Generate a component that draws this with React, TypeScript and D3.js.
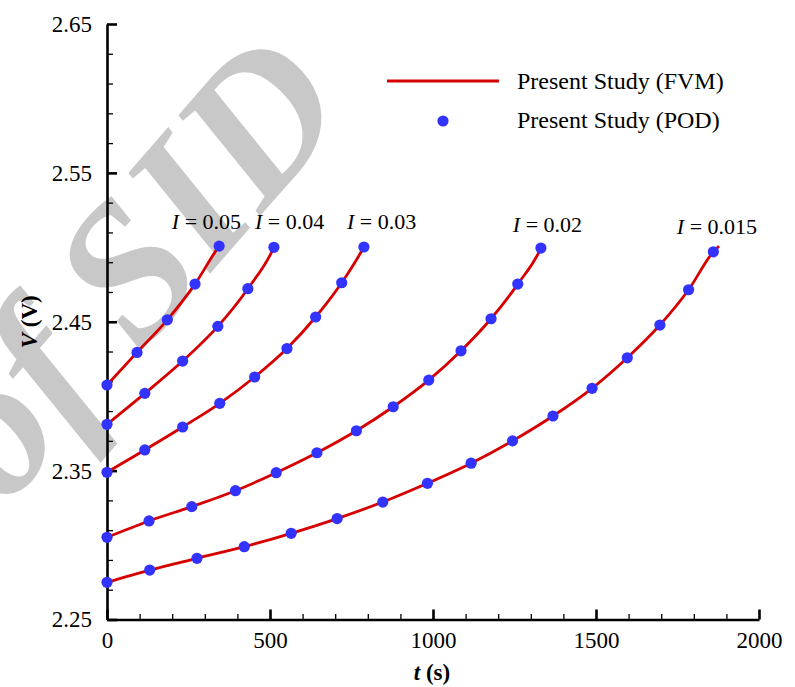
import React, { useEffect, useRef } from 'react';
import * as d3 from 'd3';

// ---------- data ----------
const SERIES = ['0.05', '0.04', '0.03', '0.02', '0.015'];

const T_I050 = [0, 92, 185, 270, 344];
const V_I050 = [2.4075, 2.4294, 2.4513, 2.4753, 2.5008];
const T_I040 = [0, 116, 232, 340, 432, 512];
const V_I040 = [2.3811, 2.4019, 2.4236, 2.4469, 2.4722, 2.5];
const T_I030 = [0, 116, 232, 346, 453, 552, 640, 720, 788];
const V_I030 = [2.3489, 2.3639, 2.3793, 2.3952, 2.4129, 2.432, 2.4532, 2.4762, 2.5002];
const T_I020 = [0, 129, 260, 394, 519, 644, 765, 878, 987, 1086, 1178, 1260, 1331];
const V_I020 = [2.3052, 2.3162, 2.3258, 2.3365, 2.3486, 2.362, 2.3768, 2.3929, 2.4108, 2.4305, 2.452, 2.4753, 2.4995];
const T_I015 = [0, 131, 276, 421, 565, 706, 846, 983, 1117, 1244, 1368, 1488, 1596, 1696, 1784, 1860];
const V_I015 = [2.275, 2.2832, 2.2911, 2.2989, 2.3079, 2.3178, 2.3289, 2.3415, 2.355, 2.37, 2.3867, 2.4053, 2.4258, 2.4478, 2.4715, 2.497];

// FVM curves end at the 2.5 V cut-off
const FVM_END_T = [350, 514, 790, 1333, 1877];
const FVM_END_V = [2.5025, 2.501, 2.501, 2.5005, 2.5008];

// curve label anchors (data coords)
const LABEL_T = [199, 454, 736, 1245, 1748];
const LABEL_V = [2.5123, 2.5123, 2.5123, 2.5104, 2.5087];

const X_TICKS = [0, 500, 1000, 1500, 2000];
const Y_TICKS = [2.25, 2.35, 2.45, 2.55, 2.65];

const LEGEND_LABELS = ['Present Study (FVM)', 'Present Study (POD)'];
const WATERMARK = ['of', 'SID'];

const T_ALL = [T_I050, T_I040, T_I030, T_I020, T_I015];
const V_ALL = [V_I050, V_I040, V_I030, V_I020, V_I015];

// ---------- styles ----------
const FONT = "'Liberation Serif', 'DejaVu Serif', serif";
const RED = '#d60000';
const BLUE = '#3333ff';

const W = 795;
const H = 687;

export default function App() {
  const xAxisRef = useRef<SVGGElement>(null);
  const xMinorRef = useRef<SVGGElement>(null);
  const yAxisRef = useRef<SVGGElement>(null);
  const yMinorRef = useRef<SVGGElement>(null);

  const x = d3.scaleLinear().domain([0, 2000]).range([107, 759]);
  const y = d3.scaleLinear().domain([2.25, 2.65]).range([619.5, 24]);

  useEffect(() => {
    const xMinor = d3.range(0, 2001, 100).filter((d) => d % 500 !== 0);
    const yMinor = d3.range(0, 21).map((i) => +(2.25 + i * 0.02).toFixed(2)).filter((d) => Math.round(d * 100) % 10 !== 5);

    const gxm = d3.select(xMinorRef.current!);
    gxm.call(d3.axisBottom(x).tickValues(xMinor).tickSizeInner(-5.5).tickSizeOuter(0).tickFormat(() => '') as any);
    gxm.select('.domain').remove();
    gxm.selectAll('line').attr('stroke', '#000').attr('stroke-width', 1.3);

    const gx = d3.select(xAxisRef.current!);
    gx.call(d3.axisBottom(x).tickValues(X_TICKS).tickSizeInner(-10).tickSizeOuter(0).tickPadding(12).tickFormat(d3.format('d')) as any);
    gx.attr('font-family', FONT).attr('font-size', 23);
    gx.select('.domain').attr('stroke', '#000').attr('stroke-width', 2.6);
    gx.selectAll('line').attr('stroke', '#000').attr('stroke-width', 2.6);
    gx.selectAll('text').attr('font-family', FONT).attr('font-size', 23).attr('fill', '#000');

    const gym = d3.select(yMinorRef.current!);
    gym.call(d3.axisLeft(y).tickValues(yMinor).tickSizeInner(-6).tickSizeOuter(0).tickFormat(() => '') as any);
    gym.select('.domain').remove();
    gym.selectAll('line').attr('stroke', '#000').attr('stroke-width', 1.3);

    const gy = d3.select(yAxisRef.current!);
    gy.call(d3.axisLeft(y).tickValues(Y_TICKS).tickSizeInner(-10).tickSizeOuter(0).tickPadding(15).tickFormat(d3.format('.2f')) as any);
    gy.attr('font-family', FONT).attr('font-size', 23);
    gy.select('.domain').attr('stroke', '#000').attr('stroke-width', 2.6);
    gy.selectAll('line').attr('stroke', '#000').attr('stroke-width', 2.6);
    gy.selectAll('text').attr('font-family', FONT).attr('font-size', 23).attr('fill', '#000');
  }, []);

  const line = d3
    .line<[number, number]>()
    .x((d) => x(d[0]))
    .y((d) => y(d[1]))
    .curve(d3.curveMonotoneX);

  // watermark geometry
  const wmAngle = -49;
  const wmX = 140;
  const wmY = 354;
  const wmSize = 195;

  return (
    <svg
      width={W}
      height={H}
      viewBox={`0 0 ${W} ${H}`}
      style={{ position: 'absolute', left: 0, top: 0, background: '#fff' }}
      fontFamily={FONT}
    >
      <rect x={0} y={0} width={W} height={H} fill="#fff" />

      {/* watermark */}
      <g
        transform={`translate(${wmX},${wmY}) rotate(${wmAngle})`}
        fill="#c8c8c8"
        fontStyle="italic"
        fontWeight="bold"
        fontSize={wmSize}
        fontFamily={FONT}
      >
        <text x={-0.22 * wmSize} y={0} textAnchor="end">{WATERMARK[0]}</text>
        <text x={0} y={0} textAnchor="start">{WATERMARK[1]}</text>
      </g>

      {/* axes */}
      <g ref={xMinorRef} transform={`translate(0,${y(2.25)})`} />
      <g ref={yMinorRef} transform={`translate(${x(0)},0)`} />
      <g ref={xAxisRef} transform={`translate(0,${y(2.25)})`} />
      <g ref={yAxisRef} transform={`translate(${x(0)},0)`} />

      {/* FVM lines */}
      {SERIES.map((s, i) => {
        const pts: [number, number][] = T_ALL[i].map((t, j) => [t, V_ALL[i][j]] as [number, number]);
        pts.push([FVM_END_T[i], FVM_END_V[i]]);
        return <path key={'l' + s} d={line(pts) || ''} fill="none" stroke={RED} strokeWidth={2.8} />;
      })}

      {/* POD points */}
      {SERIES.map((s, i) => (
        <g key={'p' + s}>
          {T_ALL[i].map((t, j) => (
            <circle key={j} cx={x(t)} cy={y(V_ALL[i][j])} r={5.6} fill={BLUE} />
          ))}
        </g>
      ))}

      {/* curve labels */}
      {SERIES.map((s, i) => (
        <text key={'t' + s} x={x(LABEL_T[i])} y={y(LABEL_V[i])} fontSize={22} fill="#000">
          <tspan fontStyle="italic">I</tspan>
          <tspan> = {s}</tspan>
        </text>
      ))}

      {/* legend */}
      <line x1={387} x2={499} y1={81} y2={81} stroke={RED} strokeWidth={2.8} />
      <text x={517} y={89} fontSize={24} fill="#000">{LEGEND_LABELS[0]}</text>
      <circle cx={443} cy={121} r={5.6} fill={BLUE} />
      <text x={517} y={128} fontSize={24} fill="#000">{LEGEND_LABELS[1]}</text>

      {/* axis titles */}
      <text x={432} y={680} textAnchor="middle" fontSize={23} fontWeight="bold" fill="#000">
        <tspan fontStyle="italic">t</tspan>
        <tspan> (s)</tspan>
      </text>
      <text
        transform={`translate(37,${(y(2.25) + y(2.65)) / 2}) rotate(-90)`}
        textAnchor="middle"
        fontSize={23}
        fontWeight="bold"
        fill="#000"
      >
        <tspan fontStyle="italic">V</tspan>
        <tspan> (V)</tspan>
      </text>
    </svg>
  );
}
